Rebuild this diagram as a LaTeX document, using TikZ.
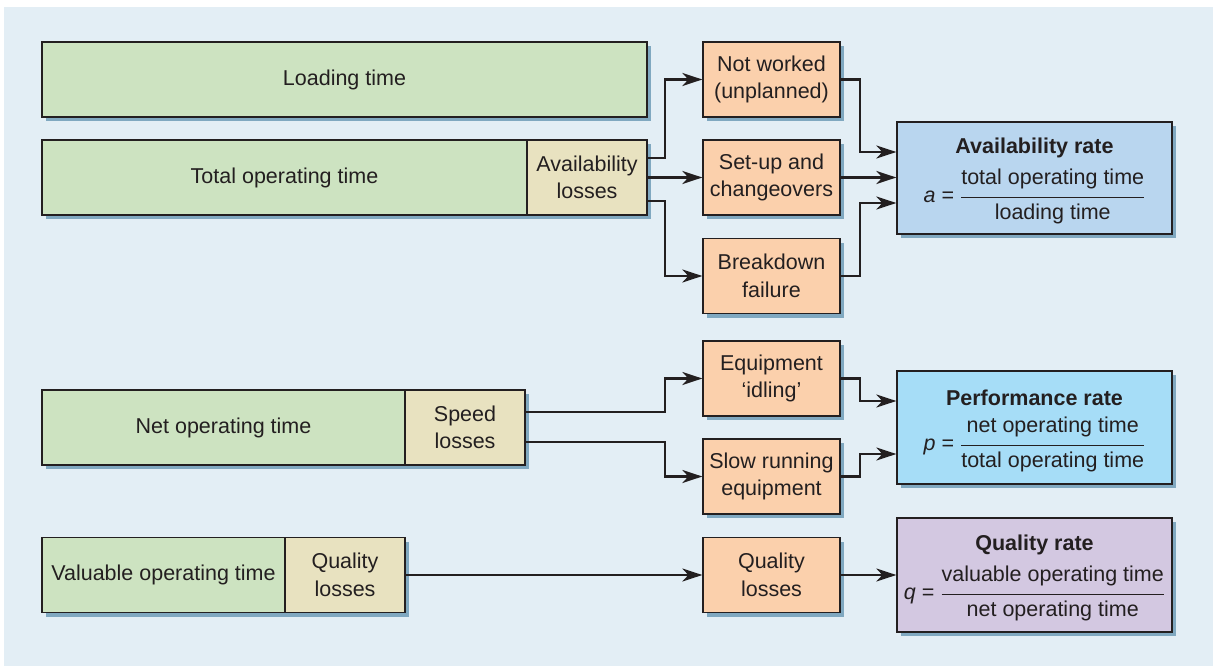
\documentclass[tikz,border=0pt]{standalone}
\usepackage{amsmath}
\usepackage{fontspec}
\setmainfont{Liberation Sans}
\usepackage{tikz}
\usetikzlibrary{positioning,shadows,arrows.meta,calc}
\definecolor{BackBlue}{RGB}{227,238,245}
\definecolor{ShadeBlue}{RGB}{128,168,192}
\definecolor{TimeGreen}{RGB}{205,227,193}
\definecolor{LossTan}{RGB}{232,226,192}
\definecolor{CauseOrange}{RGB}{251,208,172}
\definecolor{AvailBlue}{RGB}{185,214,239}
\definecolor{PerfBlue}{RGB}{166,221,247}
\definecolor{QualLilac}{RGB}{211,200,225}
\definecolor{InkGray}{RGB}{35,31,32}
\newcommand{\ratefrac}[2]{$\dfrac{\text{#1}\rule[-10pt]{0pt}{10pt}}{\rule{0pt}{19pt}\text{#2}}$}
\newcommand{\ratetitle}[1]{\rule{0pt}{22pt}\textbf{#1}}

\begin{document}
\begin{tikzpicture}[x=1pt,y=-1pt,
	box/.style={rectangle,draw=InkGray,line width=1.3pt,inner sep=0pt,
		minimum height=75pt,text=InkGray,align=center,
		font=\fontsize{21.5}{27.5}\selectfont,
		drop shadow={shadow xshift=4pt,shadow yshift=-4pt,fill=ShadeBlue,opacity=1}},
	timebox/.style={box,fill=TimeGreen},
	lossbox/.style={box,fill=LossTan,minimum width=120pt},
	causebox/.style={box,fill=CauseOrange,minimum width=137pt},
	ratebox/.style={box,minimum width=275pt},
	flow/.style={draw=InkGray,line width=2.2pt,
		-{Stealth[length=20pt,width=13pt,inset=6pt]}}]
			\useasboundingbox (0,0) rectangle (1213,666);
			\fill[BackBlue] (4,7) rectangle (1213,666);
			\node [timebox,minimum width=605pt,name = load] at (344.5,79.5) {Loading time};
			\node [timebox,minimum width=485pt,name = total] at (284.5,177.5) {Total operating time};
			\node [lossbox,name = avail] at (587,177.5) {Availability\\losses};
			\node [timebox,minimum width=363pt,name = net] at (223.5,427.5) {Net operating time};
			\node [lossbox,name = speed] at (465,427.5) {Speed\\losses};
			\node [timebox,minimum width=243pt,name = valu] at (163.5,575) {Valuable operating time};
			\node [lossbox,name = qloss] at (345,575) {Quality\\losses};
			\node [causebox,name = notw] at (771.5,79.5) {Not worked\\(unplanned)};
			\node [causebox,name = setup] at (771.5,177.5) {Set-up and\\changeovers};
			\node [causebox,name = brk] at (771.5,276) {Breakdown\\failure};
			\node [causebox,name = idle] at (771.5,378.5) {Equipment\\‘idling’};
			\node [causebox,name = slow] at (771.5,476.5) {Slow running\\equipment};
			\node [causebox,name = qcause] at (771.5,575) {Quality\\losses};
			\node [ratebox,fill=AvailBlue,minimum height=112pt,name = arate] at (1034.5,178)
				{\ratetitle{Availability rate}\\[10pt]\textit{a} = \ratefrac{total operating time}{loading time}};
			\node [ratebox,fill=PerfBlue,minimum height=113pt,name = prate] at (1034.5,427.5)
				{\ratetitle{Performance rate}\\[10pt]\textit{p} = \ratefrac{net operating time}{total operating time}};
			\node [ratebox,fill=QualLilac,minimum height=114pt,name = qrate] at (1034.5,575)
				{\ratetitle{Quality rate}\\[10pt]\textit{q} = \ratefrac{valuable operating time}{net operating time}};
			\draw [flow] ([yshift=19.5pt]avail.east) -| ([xshift=-37pt]notw.west) -- (notw.west);
			\draw [flow] (avail.east) -- (setup.west);
			\draw [flow] ([yshift=-23.5pt]avail.east) -| ([xshift=-37pt]brk.west) -- (brk.west);
			\draw [flow] (notw.east) -- ++(19,0) |- ([yshift=26pt]arate.west);
			\draw [flow] (setup.east) -- (setup.east -| arate.west);
			\draw [flow] (brk.east) -- ++(19,0) |- ([yshift=-25pt]arate.west);
			\draw [flow] ([yshift=15.5pt]speed.east) -| ([xshift=-37pt]idle.west) -- (idle.west);
			\draw [flow] ([yshift=-14.5pt]speed.east) -| ([xshift=-37pt]slow.west) -- (slow.west);
			\draw [flow] (idle.east) -- ++(19,0) |- ([yshift=26.5pt]prate.west);
			\draw [flow] (slow.east) -- ++(19,0) |- ([yshift=-26.5pt]prate.west);
			\draw [flow] (qloss.east) -- (qcause.west);
			\draw [flow] (qcause.east) -- (qrate.west);
		\end{tikzpicture}
\end{document}
